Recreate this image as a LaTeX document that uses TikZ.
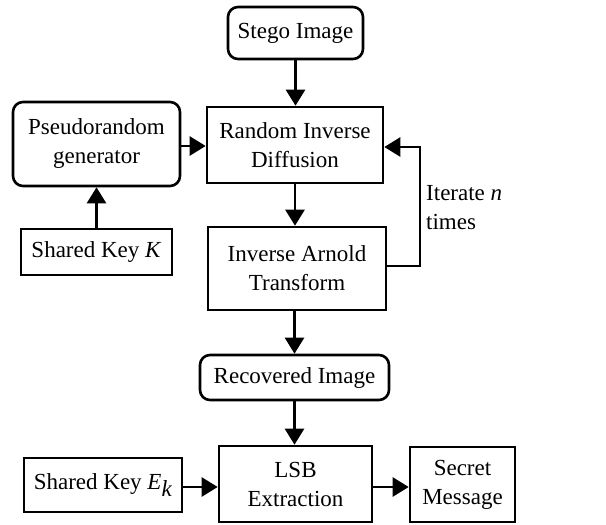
\documentclass[tikz,border=0pt]{standalone}
\usepackage{fontspec}
\setmainfont{Liberation Serif}
\usetikzlibrary{arrows.meta,positioning}

\begin{document}
\begin{tikzpicture}[x=1pt, y=-1pt, font=\fontsize{23}{29}\selectfont, every node/.style={align=center}, line/.style={-{Triangle[length=16pt,width=19pt]}, line width=2.6pt, draw=black}]

% styles
\tikzset{
  rbox/.style={rectangle, rounded corners=10pt, draw=black, line width=2.6pt, inner sep=0pt},
  sbox/.style={rectangle, draw=black, line width=2.6pt, inner sep=0pt}
}

\useasboundingbox (0,0) rectangle (606,525);

% nodes at absolute positions
\node[rbox, minimum width=135pt, minimum height=52pt] (S) at (295.5,33) {Stego Image};
\node[rbox, minimum width=167pt, minimum height=84pt] (P) at (96.5,144) {Pseudorandom\\generator};
\node[sbox, minimum width=176pt, minimum height=76pt] (D) at (295,145) {Random Inverse\\Diffusion};
\node[sbox, minimum width=151pt, minimum height=46pt] (K) at (96.5,252) {Shared Key \textit{K}};
\node[sbox, minimum width=178pt, minimum height=83pt] (T) at (297,268.5) {Inverse Arnold\\Transform};
\node[rbox, minimum width=189pt, minimum height=45pt] (R) at (294.5,377.5) {Recovered Image};
\node[sbox, minimum width=153pt, minimum height=76pt] (L) at (295.5,484) {LSB\\Extraction};
\node[sbox, minimum width=158pt, minimum height=54pt] (E) at (103,485) {Shared Key $\textit{E}_{\textit{k}}$};
\node[sbox, minimum width=105pt, minimum height=75pt] (M) at (462.5,484.5) {Secret\\Message};

\node[align=left, anchor=west, inner sep=0pt] (I) at (426,208) {Iterate \textit{n}\\times};

% loop corners
\coordinate (lA) at (420,266);
\coordinate (lB) at (420,147);

% connectors
\draw[line] (S.south) -- (S.south |- D.north);
\draw[line] (P.east |- 0,146) -- (D.west |- 0,146);
\draw[line] (K.north) -- (P.south);
\draw[line] (D.south) -- (D.south |- T.north);
\draw[line] (T.south -| R.north) -- (R.north);
\draw[line] (R.south) -- (R.south |- L.north);
\draw[line] (E.east |- 0,487) -- (L.west |- 0,487);
\draw[line] (L.east |- 0,487) -- (M.west |- 0,487);
\draw[line] (T.east |- lA) -- (lA) -- (lB) -- (D.east |- lB);

\end{tikzpicture}
\end{document}
